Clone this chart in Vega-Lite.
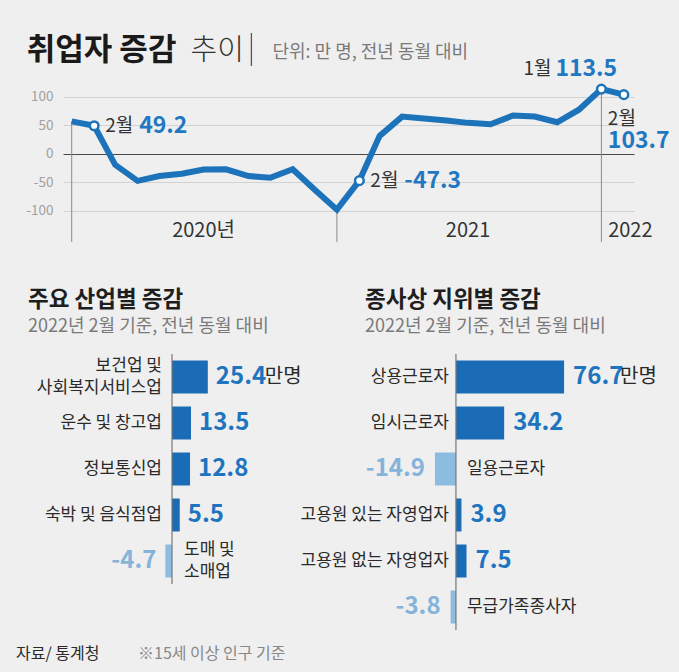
{
  "$schema": "https://vega.github.io/schema/vega-lite/v6.json",
  "background": "#efefef",
  "padding": {"left": 16, "top": 32, "right": 12, "bottom": 12},
  "bounds": "flush",
  "spacing": 112,
  "config": {
    "view": {"stroke": null},
    "font": "Noto Sans CJK KR",
    "text": {"font": "Noto Sans CJK KR"},
    "title": {"font": "Noto Sans CJK KR", "subtitleFont": "Noto Sans CJK KR"},
    "axis": {"labelFont": "Noto Sans CJK KR"}
  },
  "datasets": {
    "trend": [
      {"ym": "2020-01", "v": 56.8},
      {"ym": "2020-02", "v": 49.2, "lab": "2월"},
      {"ym": "2020-03", "v": -19.5},
      {"ym": "2020-04", "v": -47.6},
      {"ym": "2020-05", "v": -39.2},
      {"ym": "2020-06", "v": -35.2},
      {"ym": "2020-07", "v": -27.7},
      {"ym": "2020-08", "v": -27.4},
      {"ym": "2020-09", "v": -39.2},
      {"ym": "2020-10", "v": -42.1},
      {"ym": "2020-11", "v": -27.3},
      {"ym": "2020-12", "v": -62.8},
      {"ym": "2021-01", "v": -98.2},
      {"ym": "2021-02", "v": -47.3, "lab": "2월"},
      {"ym": "2021-03", "v": 31.4},
      {"ym": "2021-04", "v": 65.2},
      {"ym": "2021-05", "v": 61.9},
      {"ym": "2021-06", "v": 58.2},
      {"ym": "2021-07", "v": 54.2},
      {"ym": "2021-08", "v": 51.8},
      {"ym": "2021-09", "v": 67.1},
      {"ym": "2021-10", "v": 65.2},
      {"ym": "2021-11", "v": 55.3},
      {"ym": "2021-12", "v": 77.3},
      {"ym": "2022-01", "v": 113.5, "lab": "1월"},
      {"ym": "2022-02", "v": 103.7, "lab": "2월"}
    ],
    "industry": [
      {"cat": "보건업 및\n사회복지서비스업", "v": 25.4, "unit": "만명"},
      {"cat": "운수 및 창고업", "v": 13.5},
      {"cat": "정보통신업", "v": 12.8},
      {"cat": "숙박 및 음식점업", "v": 5.5},
      {"cat": "도매 및\n소매업", "v": -4.7}
    ],
    "status": [
      {"cat": "상용근로자", "v": 76.7, "unit": "만명"},
      {"cat": "임시근로자", "v": 34.2},
      {"cat": "일용근로자", "v": -14.9},
      {"cat": "고용원 있는 자영업자", "v": 3.9},
      {"cat": "고용원 없는 자영업자", "v": 7.5},
      {"cat": "무급가족종사자", "v": -3.8}
    ]
  },
  "vconcat": [
    {
      "width": 571,
      "height": 168,
      "data": {"name": "trend"},
      "layer": [
        {
          "transform": [{"filter": "utcmonth(toDate(datum.ym)) === 0"}],
          "mark": {"type": "rule", "color": "#8a8a8a", "strokeWidth": 1},
          "encoding": {
            "x": {
              "field": "ym", "type": "temporal", "axis": null,
              "scale": {"domain": [{"year": 2019, "month": 12, "date": 20, "utc": true}, {"year": 2022, "month": 2, "date": 15, "utc": true}], "nice": false}
            },
            "y": {
              "field": "v", "type": "quantitative",
              "scale": {"domain": [-155, 140], "nice": false, "zero": false},
              "axis": {
                "values": [-100, -50, 0, 50, 100],
                "grid": true,
                "domain": false,
                "ticks": false,
                "title": null,
                "labelPadding": 10,
                "labelFontSize": 13.5,
                "labelColor": "#a0a0a0",
                "labelExpr": "datum.value",
                "gridColor": {"condition": {"test": "datum.value === 0", "value": "#4a4a4a"}, "value": "#d2d2d2"},
                "gridWidth": 1
              }
            },
            "y2": {"datum": -155}
          }
        },
        {
          "mark": {"type": "line", "color": "#1c73ba", "strokeWidth": 6},
          "encoding": {
            "x": {"field": "ym", "type": "temporal"},
            "y": {"field": "v", "type": "quantitative"}
          }
        },
        {
          "transform": [{"filter": "datum.lab"}],
          "mark": {"type": "point", "filled": true, "fill": "#ffffff", "stroke": "#1c73ba", "strokeWidth": 2.5, "size": 75, "opacity": 1},
          "encoding": {
            "x": {"field": "ym", "type": "temporal"},
            "y": {"field": "v", "type": "quantitative"}
          }
        },
        {
          "transform": [{"filter": "datum.lab && utcyear(toDate(datum.ym)) < 2022"}],
          "mark": {"type": "text", "align": "left", "baseline": "middle", "dx": 11, "fontSize": 19, "color": "#333333"},
          "encoding": {
            "x": {"field": "ym", "type": "temporal"},
            "y": {"field": "v", "type": "quantitative"},
            "text": {"field": "lab"}
          }
        },
        {
          "transform": [{"filter": "datum.lab && utcyear(toDate(datum.ym)) < 2022"}],
          "mark": {"type": "text", "align": "left", "baseline": "middle", "dx": 45, "fontSize": 23, "fontWeight": "bold", "color": "#1f78c1"},
          "encoding": {
            "x": {"field": "ym", "type": "temporal"},
            "y": {"field": "v", "type": "quantitative"},
            "text": {"field": "v", "type": "nominal"}
          }
        },
        {
          "transform": [{"filter": "datum.lab && utcyear(toDate(datum.ym)) === 2022 && utcmonth(toDate(datum.ym)) === 0"}],
          "mark": {"type": "text", "align": "left", "baseline": "middle", "dx": -78, "dy": -20, "fontSize": 19, "color": "#333333"},
          "encoding": {
            "x": {"field": "ym", "type": "temporal"},
            "y": {"field": "v", "type": "quantitative"},
            "text": {"field": "lab"}
          }
        },
        {
          "transform": [{"filter": "datum.lab && utcyear(toDate(datum.ym)) === 2022 && utcmonth(toDate(datum.ym)) === 0"}],
          "mark": {"type": "text", "align": "left", "baseline": "middle", "dx": -46, "dy": -20, "fontSize": 23, "fontWeight": "bold", "color": "#1f78c1"},
          "encoding": {
            "x": {"field": "ym", "type": "temporal"},
            "y": {"field": "v", "type": "quantitative"},
            "text": {"field": "v", "type": "nominal"}
          }
        },
        {
          "transform": [{"filter": "datum.lab && utcyear(toDate(datum.ym)) === 2022 && utcmonth(toDate(datum.ym)) === 1"}],
          "mark": {"type": "text", "align": "left", "baseline": "middle", "dx": -16, "dy": 24, "fontSize": 19, "color": "#333333"},
          "encoding": {
            "x": {"field": "ym", "type": "temporal"},
            "y": {"field": "v", "type": "quantitative"},
            "text": {"field": "lab"}
          }
        },
        {
          "transform": [{"filter": "datum.lab && utcyear(toDate(datum.ym)) === 2022 && utcmonth(toDate(datum.ym)) === 1"}],
          "mark": {"type": "text", "align": "left", "baseline": "middle", "dx": -16, "dy": 46, "fontSize": 23, "fontWeight": "bold", "color": "#1f78c1"},
          "encoding": {
            "x": {"field": "ym", "type": "temporal"},
            "y": {"field": "v", "type": "quantitative"},
            "text": {"field": "v", "type": "nominal"}
          }
        },
        {
          "data": {"values": [
            {"ym": "2020-07-01", "t": "2020년"},
            {"ym": "2021-07-01", "t": "2021"},
            {"ym": "2022-02-10", "t": "2022"}
          ]},
          "mark": {"type": "text", "align": "center", "baseline": "middle", "fontSize": 20, "color": "#333333"},
          "encoding": {
            "x": {"field": "ym", "type": "temporal"},
            "y": {"datum": -135},
            "text": {"field": "t"}
          }
        },
        {
          "data": {"values": [{"t": "취업자 증감"}]},
          "mark": {"type": "text", "align": "left", "baseline": "middle", "fontSize": 31, "fontWeight": "bold", "color": "#1a1a1a"},
          "encoding": {
            "x": {"datum": {"year": 2019, "month": 10, "date": 31, "utc": true}, "type": "temporal"},
            "y": {"datum": 181},
            "text": {"field": "t"}
          }
        },
        {
          "data": {"values": [{"t": "추이"}]},
          "mark": {"type": "text", "align": "left", "baseline": "middle", "fontSize": 29, "fontWeight": 300, "color": "#333333"},
          "encoding": {
            "x": {"datum": {"year": 2020, "month": 6, "date": 13, "utc": true}, "type": "temporal"},
            "y": {"datum": 181},
            "text": {"field": "t"}
          }
        },
        {
          "data": {"values": [{"t": "|"}]},
          "mark": {"type": "rule", "color": "#555555", "strokeWidth": 1.3},
          "encoding": {
            "x": {"datum": {"year": 2020, "month": 9, "date": 5, "utc": true}, "type": "temporal"},
            "y": {"datum": 212},
            "y2": {"datum": 154}
          }
        },
        {
          "data": {"values": [{"t": "단위: 만 명, 전년 동월 대비"}]},
          "mark": {"type": "text", "align": "left", "baseline": "middle", "fontSize": 18, "color": "#7a7a7a"},
          "encoding": {
            "x": {"datum": {"year": 2020, "month": 10, "date": 4, "utc": true}, "type": "temporal"},
            "y": {"datum": 177},
            "text": {"field": "t"}
          }
        }
      ]
    },
    {
      "hconcat": [
        {
          "width": 282,
          "height": 230,
          "data": {"name": "industry"},
          "title": {
            "text": "주요 산업별 증감",
            "subtitle": "2022년 2월 기준, 전년 동월 대비",
            "anchor": "start",
            "frame": "group",
            "dx": -35,
            "fontSize": 22.5,
            "fontWeight": "bold",
            "color": "#1e1e1e",
            "subtitleFontSize": 18,
            "subtitleColor": "#7a7a7a",
            "subtitlePadding": 7,
            "offset": 17
          },
          "layer": [
            {
              "mark": {"type": "bar"},
              "encoding": {
                "y": {"field": "cat", "type": "nominal", "sort": null, "axis": null, "scale": {"paddingInner": 0.283, "paddingOuter": 0.1415}},
                "x": {"field": "v", "type": "quantitative", "axis": null, "scale": {"domain": [-77.3, 122.7], "nice": false, "zero": false}},
                "color": {"condition": {"test": "datum.v < 0", "value": "#8dbce1"}, "value": "#1a6cb7"}
              }
            },
            {
              "data": {"values": [{}]},
              "mark": {"type": "rule", "color": "#777777", "strokeWidth": 1.2},
              "encoding": {"x": {"datum": 0}}
            },
            {
              "transform": [{"filter": "datum.v >= 0 && indexof(datum.cat, '\\n') < 0"}],
              "mark": {"type": "text", "align": "right", "baseline": "middle", "dx": -10, "fontSize": 17, "color": "#2a2a2a"},
              "encoding": {
                "y": {"field": "cat", "type": "nominal", "sort": null},
                "x": {"datum": 0},
                "text": {"field": "cat"}
              }
            },
            {
              "transform": [{"filter": "datum.v >= 0 && indexof(datum.cat, '\\n') >= 0"}],
              "mark": {"type": "text", "align": "right", "baseline": "middle", "dx": -10, "dy": -11, "fontSize": 17, "color": "#2a2a2a", "lineBreak": "\n", "lineHeight": 22},
              "encoding": {
                "y": {"field": "cat", "type": "nominal", "sort": null},
                "x": {"datum": 0},
                "text": {"field": "cat"}
              }
            },
            {
              "transform": [{"filter": "datum.v < 0"}],
              "mark": {"type": "text", "align": "left", "baseline": "middle", "dx": 12, "dy": -11, "fontSize": 17, "color": "#2a2a2a", "lineBreak": "\n", "lineHeight": 22},
              "encoding": {
                "y": {"field": "cat", "type": "nominal", "sort": null},
                "x": {"datum": 0},
                "text": {"field": "cat"}
              }
            },
            {
              "transform": [{"filter": "datum.v >= 0"}],
              "mark": {"type": "text", "align": "left", "baseline": "middle", "dx": 8, "fontSize": 24, "fontWeight": "bold", "color": "#1f74bf"},
              "encoding": {
                "y": {"field": "cat", "type": "nominal", "sort": null},
                "x": {"field": "v", "type": "quantitative"},
                "text": {"field": "v", "type": "nominal"}
              }
            },
            {
              "transform": [{"filter": "datum.v < 0"}],
              "mark": {"type": "text", "align": "right", "baseline": "middle", "dx": -9, "fontSize": 24, "fontWeight": "bold", "color": "#85b3da"},
              "encoding": {
                "y": {"field": "cat", "type": "nominal", "sort": null},
                "x": {"field": "v", "type": "quantitative"},
                "text": {"field": "v", "type": "nominal"}
              }
            },
            {
              "transform": [{"filter": "datum.unit"}],
              "mark": {"type": "text", "align": "left", "baseline": "middle", "dx": 57, "fontSize": 20, "color": "#2a2a2a"},
              "encoding": {
                "y": {"field": "cat", "type": "nominal", "sort": null},
                "x": {"field": "v", "type": "quantitative"},
                "text": {"field": "unit"}
              }
            },
            {
              "data": {"values": [{"t": "자료/ 통계청"}]},
              "mark": {"type": "text", "align": "left", "baseline": "middle", "dy": 93, "fontSize": 16, "color": "#2a2a2a"},
              "encoding": {
                "x": {"datum": -110.6},
                "y": {"datum": "도매 및\n소매업", "type": "nominal"},
                "text": {"field": "t"}
              }
            },
            {
              "data": {"values": [{"t": "※15세 이상 인구 기준"}]},
              "mark": {"type": "text", "align": "left", "baseline": "middle", "dy": 93, "fontSize": 16, "color": "#888888"},
              "encoding": {
                "x": {"datum": -24.1},
                "y": {"datum": "도매 및\n소매업", "type": "nominal"},
                "text": {"field": "t"}
              }
            }
          ]
        },
        {
          "width": 302,
          "height": 276,
          "data": {"name": "status"},
          "title": {
            "text": "종사상 지위별 증감",
            "subtitle": "2022년 2월 기준, 전년 동월 대비",
            "anchor": "start",
            "frame": "group",
            "fontSize": 22.5,
            "fontWeight": "bold",
            "color": "#1e1e1e",
            "subtitleFontSize": 18,
            "subtitleColor": "#7a7a7a",
            "subtitlePadding": 7,
            "offset": 17
          },
          "layer": [
            {
              "mark": {"type": "bar"},
              "encoding": {
                "y": {"field": "cat", "type": "nominal", "sort": null, "axis": null, "scale": {"paddingInner": 0.283, "paddingOuter": 0.1415}},
                "x": {"field": "v", "type": "quantitative", "axis": null, "scale": {"domain": [-64.5, 149.7], "nice": false, "zero": false}},
                "color": {"condition": {"test": "datum.v < 0", "value": "#8dbce1"}, "value": "#1a6cb7"}
              }
            },
            {
              "data": {"values": [{}]},
              "mark": {"type": "rule", "color": "#777777", "strokeWidth": 1.2},
              "encoding": {"x": {"datum": 0}}
            },
            {
              "transform": [{"filter": "datum.v >= 0"}],
              "mark": {"type": "text", "align": "right", "baseline": "middle", "dx": -7, "fontSize": 17, "color": "#2a2a2a"},
              "encoding": {
                "y": {"field": "cat", "type": "nominal", "sort": null},
                "x": {"datum": 0},
                "text": {"field": "cat"}
              }
            },
            {
              "transform": [{"filter": "datum.v < 0"}],
              "mark": {"type": "text", "align": "left", "baseline": "middle", "dx": 11, "fontSize": 17, "color": "#2a2a2a"},
              "encoding": {
                "y": {"field": "cat", "type": "nominal", "sort": null},
                "x": {"datum": 0},
                "text": {"field": "cat"}
              }
            },
            {
              "transform": [{"filter": "datum.v >= 0"}],
              "mark": {"type": "text", "align": "left", "baseline": "middle", "dx": 9, "fontSize": 24, "fontWeight": "bold", "color": "#1f74bf"},
              "encoding": {
                "y": {"field": "cat", "type": "nominal", "sort": null},
                "x": {"field": "v", "type": "quantitative"},
                "text": {"field": "v", "type": "nominal"}
              }
            },
            {
              "transform": [{"filter": "datum.v < 0"}],
              "mark": {"type": "text", "align": "right", "baseline": "middle", "dx": -10, "fontSize": 24, "fontWeight": "bold", "color": "#85b3da"},
              "encoding": {
                "y": {"field": "cat", "type": "nominal", "sort": null},
                "x": {"field": "v", "type": "quantitative"},
                "text": {"field": "v", "type": "nominal"}
              }
            },
            {
              "transform": [{"filter": "datum.unit"}],
              "mark": {"type": "text", "align": "left", "baseline": "middle", "dx": 56, "fontSize": 20, "color": "#2a2a2a"},
              "encoding": {
                "y": {"field": "cat", "type": "nominal", "sort": null},
                "x": {"field": "v", "type": "quantitative"},
                "text": {"field": "unit"}
              }
            }
          ]
        }
      ],
      "spacing": 20,
      "bounds": "flush"
    }
  ]
}
